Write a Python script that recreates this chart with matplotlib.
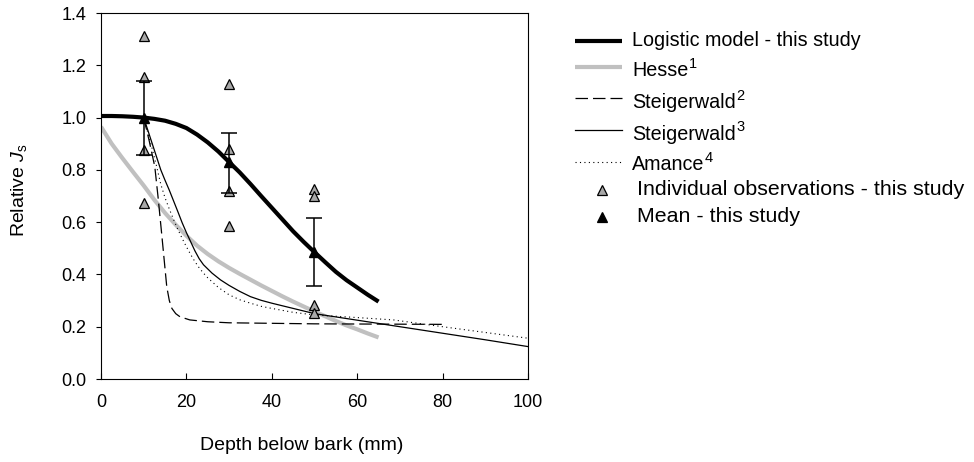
import matplotlib
matplotlib.use("Agg")
import matplotlib.pyplot as plt
from matplotlib.lines import Line2D

plt.rcParams['font.family'] = ['Liberation Sans', 'DejaVu Sans']
plt.rcParams['mathtext.fontset'] = 'custom'
plt.rcParams['mathtext.rm'] = 'Liberation Sans'
plt.rcParams['mathtext.it'] = 'Liberation Sans:italic'

# ---- data ----
logistic_x = [0, 2.5, 5, 7.5, 10, 12.5, 15, 17.5, 20, 22.5, 25, 27.5, 30, 32.5, 35,
              37.5, 40, 42.5, 45, 47.5, 50, 52.5, 55, 57.5, 60, 62.5, 65]
logistic_y = [1.006, 1.006, 1.005, 1.003, 1.0, 0.995, 0.988, 0.976, 0.96, 0.935, 0.905,
              0.87, 0.83, 0.79, 0.746, 0.70, 0.655, 0.61, 0.565, 0.524, 0.485, 0.447,
              0.41, 0.378, 0.35, 0.322, 0.296]

hesse_x = [0, 2.5, 5, 7.5, 10, 12.5, 15, 17.5, 20, 22.5, 25, 27.5, 30, 32.5, 35,
           37.5, 40, 42.5, 45, 47.5, 50, 52.5, 55, 57.5, 60, 62.5, 65]
hesse_y = [0.965, 0.90, 0.845, 0.792, 0.74, 0.685, 0.635, 0.59, 0.548, 0.51, 0.478,
           0.45, 0.425, 0.402, 0.38, 0.358, 0.337, 0.316, 0.296, 0.277, 0.258, 0.24,
           0.222, 0.205, 0.19, 0.174, 0.159]

steig2_x = [10, 11.3, 12.6, 13.4, 14.2, 15.4, 16.0, 16.6, 17.5, 18.5, 20.8, 25, 30, 50, 80]
steig2_y = [1.0, 0.91, 0.812, 0.69, 0.557, 0.353, 0.30, 0.27, 0.25, 0.238, 0.226, 0.219,
            0.215, 0.211, 0.209]

steig3_x = [10, 11, 12, 13, 14, 15, 16, 17, 18, 19, 20, 21, 22, 23, 24, 26, 28, 30,
            32.5, 35, 37.5, 40, 45, 50, 60, 70, 80, 90, 100]
steig3_y = [1.0, 0.95, 0.9, 0.85, 0.80, 0.76, 0.722, 0.681, 0.64, 0.598, 0.56, 0.525,
            0.49, 0.46, 0.437, 0.405, 0.379, 0.358, 0.335, 0.315, 0.301, 0.29, 0.27,
            0.25, 0.225, 0.2, 0.175, 0.15, 0.124]

amance_x = [10, 11, 12, 13, 14, 15, 16, 17, 18, 19, 20, 21, 22, 23, 24, 25, 27.5, 30,
            32.5, 35, 37.5, 40, 45, 50, 60, 68.5, 80, 90, 100]
amance_y = [1.0, 0.94, 0.88, 0.815, 0.745, 0.693, 0.65, 0.61, 0.572, 0.538, 0.506,
            0.476, 0.449, 0.425, 0.405, 0.387, 0.35, 0.322, 0.303, 0.29, 0.278, 0.27,
            0.255, 0.245, 0.235, 0.226, 0.2, 0.178, 0.156]

obs_x = [10, 10, 10, 10, 30, 30, 30, 30, 50, 50, 50, 50]
obs_y = [1.312, 1.154, 0.876, 0.674, 1.127, 0.881, 0.72, 0.586, 0.727, 0.70, 0.282, 0.251]

mean_x = [10, 30, 50]
mean_y = [1.0, 0.83, 0.487]
err_upper = [1.141, 0.94, 0.615]
err_lower = [0.857, 0.71, 0.357]

xticks = [0, 20, 40, 60, 80, 100]
yticks = [0.0, 0.2, 0.4, 0.6, 0.8, 1.0, 1.2, 1.4]

legend_lines = ["Logistic model - this study", "Hesse", "Steigerwald", "Steigerwald", "Amance"]
legend_sups = ["", "1", "2", "3", "4"]
legend_marks = ["Individual observations - this study", "Mean - this study"]

# ---- figure ----
W, H = 974, 462
fig = plt.figure(figsize=(W / 100, H / 100), dpi=100)
ax = fig.add_axes([101 / W, (H - 379) / H, (528 - 101) / W, (379 - 13) / H])

gray_line = '#c0c0c0'
gray_fill = '#a8a8a8'

ax.plot(hesse_x, hesse_y, color=gray_line, lw=3.0, solid_capstyle='butt', zorder=2)
ax.plot(steig2_x, steig2_y, color='black', lw=0.9, dashes=(10, 4), zorder=2)
ax.plot(steig3_x, steig3_y, color='black', lw=0.9, zorder=2)
ax.plot(amance_x, amance_y, color='black', lw=0.8, dashes=(1, 3), zorder=2)
ax.plot(logistic_x, logistic_y, color='black', lw=3.0, solid_capstyle='butt', zorder=3)

ax.plot(obs_x, obs_y, linestyle='none', marker='^', ms=7.8, mfc=gray_fill,
        mec='black', mew=0.9, zorder=4)
yerr = [[m - l for m, l in zip(mean_y, err_lower)], [u - m for m, u in zip(mean_y, err_upper)]]
ax.errorbar(mean_x, mean_y, yerr=yerr, fmt='^', color='black', ms=7.8, mfc='black',
            mec='black', elinewidth=1.1, capsize=6, capthick=1.1, zorder=5)

ax.set_xlim(0, 100)
ax.set_ylim(0, 1.4)
ax.set_xticks(xticks)
ax.set_xticklabels([str(t) for t in xticks])
ax.set_yticks(yticks)
ax.set_yticklabels([f"{t:.1f}" for t in yticks])
ax.tick_params(axis='x', direction='in', length=4.5, width=0.8, pad=11, labelsize=13)
ax.tick_params(axis='y', direction='out', length=3.5, width=0.8, pad=7, labelsize=13)
for s in ax.spines.values():
    s.set_linewidth(0.8)

ax.set_xlabel("Depth below bark (mm)", fontsize=14)
ax.xaxis.set_label_coords((302 - 101) / (528 - 101), -(445 - 379) / (379 - 13))
ax.xaxis.label.set_va('center')
ax.set_ylabel("Relative $\\mathit{J}_{\\mathregular{s}}$", fontsize=14)
ax.yaxis.set_label_coords(-(101 - 19) / (528 - 101), (379 - 190) / (379 - 13))
ax.yaxis.label.set_va('center')

# ---- legend drawn manually ----
def fx(px):
    return px / W

def fy(py):
    return 1 - py / H

renderer = fig.canvas.get_renderer()
handle_y = [41, 67, 98, 130, 162]
text_base = [46.5, 76.5, 108, 140, 170]
styles = [dict(color='black', lw=3.0, solid_capstyle='butt'),
          dict(color=gray_line, lw=3.0, solid_capstyle='butt'),
          dict(color='black', lw=0.9, dashes=(10, 4)),
          dict(color='black', lw=0.9),
          dict(color='black', lw=0.8, dashes=(1, 3))]
for hy, tb, st, lab, sup in zip(handle_y, text_base, styles, legend_lines, legend_sups):
    fig.add_artist(Line2D([fx(575), fx(622)], [fy(hy), fy(hy)], transform=fig.transFigure, **st))
    t = fig.text(fx(632), fy(tb), lab, fontsize=14.2, va='baseline', ha='left')
    if sup:
        bb = t.get_window_extent(renderer)
        fig.text(bb.x1 / W + 0.5 / W, fy(tb - 8.5), sup, fontsize=10.5, va='baseline', ha='left')

mark_y = [190, 217]
mark_base = [195, 222]
mfcs = [gray_fill, 'black']
for my, mb, mfc, lab in zip(mark_y, mark_base, mfcs, legend_marks):
    fig.add_artist(Line2D([fx(602)], [fy(my)], transform=fig.transFigure, marker='^',
                          ms=6.5, mfc=mfc, mec='black', mew=0.9, linestyle='none'))
    fig.text(fx(637), fy(mb), lab, fontsize=15.4, va='baseline', ha='left')

fig.savefig("out.png", dpi=100)
